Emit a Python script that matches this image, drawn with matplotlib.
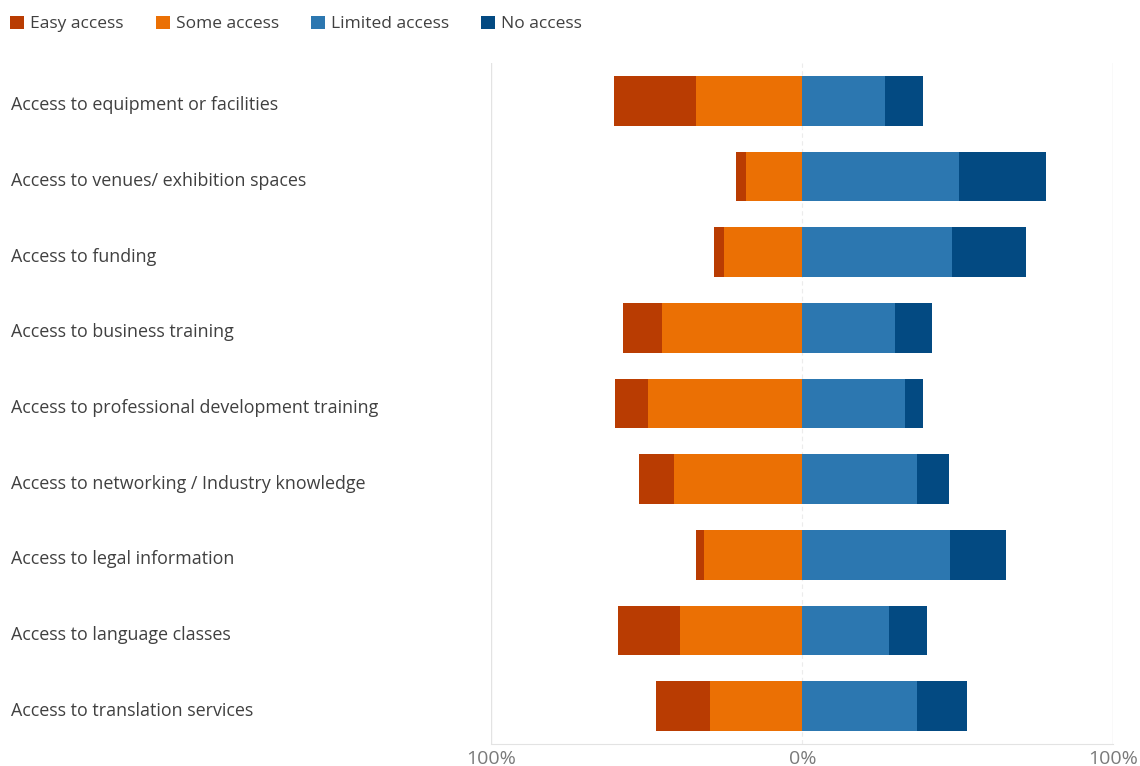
import matplotlib.pyplot as plt
import matplotlib.transforms as mtransforms
import numpy as np

categories = [
    "Access to equipment or facilities",
    "Access to venues/ exhibition spaces",
    "Access to funding",
    "Access to business training",
    "Access to professional development training",
    "Access to networking / Industry knowledge",
    "Access to legal information",
    "Access to language classes",
    "Access to translation services",
]
easy = [26.4, 3.5, 3.2, 12.5, 10.6, 11.3, 2.6, 19.9, 17.4]
some = [34.1, 18.0, 25.1, 45.3, 49.8, 41.2, 31.5, 39.5, 29.6]
limited = [26.7, 50.2, 48.2, 29.9, 33.1, 36.7, 47.3, 27.7, 36.7]
no_access = [12.2, 28.0, 23.8, 11.6, 5.8, 10.3, 18.0, 12.2, 16.1]

series_names = ["Easy access", "Some access", "Limited access", "No access"]
colors = ["#B93C02", "#EB7004", "#2C77B0", "#034A82"]

plt.rcParams["font.family"] = ["Open Sans", "DejaVu Sans"]

fig = plt.figure(figsize=(11.4, 7.66), dpi=100)
ax = fig.add_axes([0.4311, 0.0287, 0.5456, 0.8891])

y = np.arange(len(categories))
easy_a = np.array(easy)
some_a = np.array(some)
lim_a = np.array(limited)
no_a = np.array(no_access)
h = 0.66

# negative side: "some" next to zero, "easy" further out
ax.barh(y, -some_a, height=h, color=colors[1], label=series_names[1], zorder=3)
ax.barh(y, -easy_a, left=-some_a, height=h, color=colors[0], label=series_names[0], zorder=3)
# positive side
ax.barh(y, lim_a, height=h, color=colors[2], label=series_names[2], zorder=3)
ax.barh(y, no_a, left=lim_a, height=h, color=colors[3], label=series_names[3], zorder=3)

ax.set_xlim(-100, 100)
ax.set_ylim(len(categories) - 0.5, -0.5)

for xv in (-100, 100):
    ax.axvline(xv, color="#e3e3e3", lw=1.0, zorder=1)
ax.axvline(0, color="#ececec", lw=0.8, ls=(0, (4, 3)), zorder=1)

for s in ("top", "left", "right"):
    ax.spines[s].set_visible(False)
ax.spines["bottom"].set_color("#e3e3e3")

ax.set_xticks([-100, 0, 100])
ax.set_xticklabels(["100%", "0%", "100%"], color="#7a7a7a", fontsize=14)
ax.tick_params(axis="x", length=0, pad=4)

ax.set_yticks(y)
ax.set_yticklabels(categories, fontsize=12.85, color="#404040")
ax.tick_params(axis="y", length=0, pad=345.7)
shift = mtransforms.ScaledTranslation(0, -2.5 / 100, fig.dpi_scale_trans)
for lbl in ax.get_yticklabels():
    lbl.set_horizontalalignment("left")
    lbl.set_transform(lbl.get_transform() + shift)

handles, labels = ax.get_legend_handles_labels()
order = [1, 0, 2, 3]
leg = fig.legend([handles[i] for i in order], [labels[i] for i in order],
                 loc="upper left", bbox_to_anchor=(-0.0045, 1.0), ncol=4, frameon=False,
                 fontsize=12.5, handlelength=0.8, handleheight=0.8, handletextpad=0.35,
                 columnspacing=1.85, labelcolor="#404040")

fig.savefig("out.png", dpi=100, facecolor="white")
